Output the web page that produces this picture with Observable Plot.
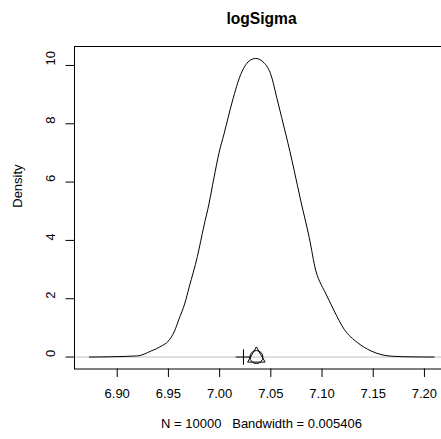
<!DOCTYPE html>
<html>
<head>
<meta charset="utf-8">
<script src="https://cdn.jsdelivr.net/npm/d3@7"></script>
<script src="https://cdn.jsdelivr.net/npm/@observablehq/plot@0.6"></script>
<style>
  html, body { margin: 0; padding: 0; background: #fff; overflow: hidden; }
  #wrap { width: 441px; height: 439px; overflow: hidden; }
  #wrap svg { max-width: none !important; width: 448px !important; height: 439px !important; }
  #wrap svg text { white-space: pre; }
</style>
</head>
<body>
<div id="wrap"></div>
<script>
// Data
const titleText = "logSigma";
const yLabelText = "Density";
const xLabelText = "N = 10000   Bandwidth = 0.005406";

const densX = [6.8729, 6.8935, 6.9199, 6.9326, 6.9443, 6.9492, 6.9561, 6.9603, 6.9661, 6.9703,
  6.9783, 6.9847, 6.9896, 6.9945, 6.9994, 7.0043, 7.0125, 7.0206, 7.0288, 7.0353,
  7.0434, 7.0500, 7.0566, 7.0647, 7.0686, 7.0728, 7.0793, 7.0875, 7.0940, 7.0989,
  7.1022, 7.1119, 7.1217, 7.1348, 7.1478, 7.1674, 7.1891, 7.2095];
const densY = [0, 0.01, 0.04, 0.2, 0.4, 0.52, 0.9, 1.3, 1.85, 2.4,
  3.45, 4.5, 5.25, 6.15, 7.0, 7.65, 8.78, 9.69, 10.15, 10.24,
  10.09, 9.69, 8.78, 7.63, 7.06, 6.4, 5.35, 4.1, 2.95, 2.5,
  2.28, 1.58, 0.95, 0.49, 0.21, 0.03, 0.005, 0];

const xTicks = [6.90, 6.95, 7.00, 7.05, 7.10, 7.15, 7.20];
const yTicks = [0, 2, 4, 6, 8, 10];

const plusX = [7.0233];
const triangleX = [7.0359];
const circleX = [7.0359];

const density = densX.map((x, i) => ({x, y: densY[i]}));

// R-style point symbols (pch 3, 2, 1)
const rPlus = {draw(ctx, size) { const h = 7.7; ctx.moveTo(-h, 0); ctx.lineTo(h, 0); ctx.moveTo(0, -h); ctx.lineTo(0, h); }};
const rTriangle = {draw(ctx, size) { const u = Math.sqrt(size / Math.PI);
  ctx.moveTo(0, -1.5551 * u); ctx.lineTo(1.3468 * u, 0.7776 * u); ctx.lineTo(-1.3468 * u, 0.7776 * u); ctx.closePath(); }};
const rCircle = {draw(ctx, size) { const u = Math.sqrt(size / Math.PI); ctx.moveTo(u, 0); ctx.arc(0, 0, u, 0, 2 * Math.PI); }};

const font = "'Liberation Sans', Arial, Helvetica, sans-serif";

const chart = Plot.plot({
  width: 448,
  height: 439,
  marginLeft: 74,
  marginRight: 0,
  marginTop: 46,
  marginBottom: 70.5,
  style: {fontFamily: font, fontSize: "13px", color: "black", background: "white", overflow: "visible", maxWidth: "none"},
  x: {domain: [6.8583, 7.2235]},
  y: {domain: [-0.41, 10.65]},
  marks: [
    Plot.ruleY([0], {stroke: "#bebebe", strokeWidth: 1}),
    Plot.line(density, {x: "x", y: "y", stroke: "black", strokeWidth: 1, curve: "monotone-x"}),
    Plot.dot(plusX, {x: d => d, y: () => 0, symbol: rPlus, r: 6.5, stroke: "black", fill: "none", strokeWidth: 1}),
    Plot.dot(triangleX, {x: d => d, y: () => 0, symbol: rTriangle, r: 6.5, stroke: "black", fill: "none", strokeWidth: 1}),
    Plot.dot(circleX, {x: d => d, y: () => 0, symbol: rCircle, r: 6.5, stroke: "black", fill: "none", strokeWidth: 1}),
    Plot.frame({stroke: "black", strokeWidth: 1}),
    Plot.axisX(xTicks, {tickSize: 8.5, tickPadding: 11, tickFormat: d3.format(".2f"), label: null, fontSize: 13}),
    Plot.axisY(yTicks, {tickSize: 8.5, tickFormat: () => "", label: null}),
    Plot.text(yTicks, {y: d => d, frameAnchor: "left", dx: -24, rotate: -90, text: d => String(d), fontSize: 13, fill: "black"}),
    Plot.text([yLabelText], {frameAnchor: "left", dx: -57, rotate: -90, text: d => d, fontSize: 13, fill: "black"}),
    Plot.text([xLabelText], {frameAnchor: "bottom", dy: 58.5, text: d => d, fontSize: 13, fill: "black"}),
    Plot.text([titleText], {frameAnchor: "top", dy: -33.5, text: d => d, fontSize: 15.6, fontWeight: "bold", fill: "black"})
  ]
});
document.getElementById("wrap").appendChild(chart);
</script>
</body>
</html>
